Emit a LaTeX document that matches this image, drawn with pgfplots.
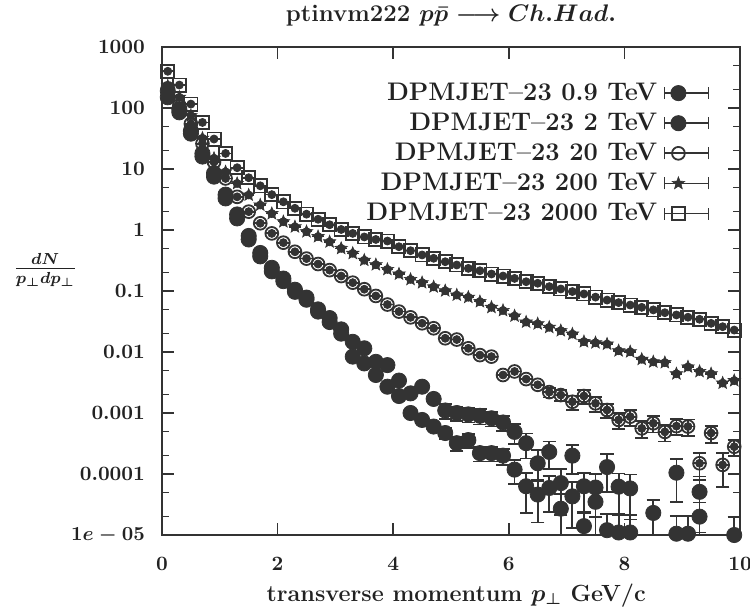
\documentclass[border=0pt]{standalone}
\usepackage{pgfplots}
\pgfplotsset{compat=1.18}
\usepackage{pgfplotstable}
\definecolor{ink}{HTML}{333333}
\definecolor{txt}{HTML}{222222}

\pgfdeclareplotmark{fstar}{%
  \pgfpathmoveto{\pgfpointpolar{90}{\pgfplotmarksize}}%
  \pgfpathlineto{\pgfpointpolar{126}{0.42\pgfplotmarksize}}%
  \pgfpathlineto{\pgfpointpolar{162}{\pgfplotmarksize}}%
  \pgfpathlineto{\pgfpointpolar{198}{0.42\pgfplotmarksize}}%
  \pgfpathlineto{\pgfpointpolar{234}{\pgfplotmarksize}}%
  \pgfpathlineto{\pgfpointpolar{270}{0.42\pgfplotmarksize}}%
  \pgfpathlineto{\pgfpointpolar{306}{\pgfplotmarksize}}%
  \pgfpathlineto{\pgfpointpolar{342}{0.42\pgfplotmarksize}}%
  \pgfpathlineto{\pgfpointpolar{18}{\pgfplotmarksize}}%
  \pgfpathlineto{\pgfpointpolar{54}{0.42\pgfplotmarksize}}%
  \pgfpathclose
  \pgfusepathqfillstroke
}

% 0.9 TeV (filled circles, lower branch)
\pgfplotstableread{
x y ep em
0.1 150 0 0
0.3 85 0 0
0.5 38 0 0
0.7 16 0 0
0.9 7.5 0 0
1.1 3.3 0 0
1.3 1.55 0 0
1.5 0.7 0 0
1.7 0.37 0 0
1.9 0.21 0 0
2.1 0.145 0 0
2.3 0.097 0 0
2.5 0.072 0 0
2.7 0.046 0 0
2.9 0.031 0 0
3.1 0.02 0 0
3.3 0.0084 0 0
3.5 0.0065 0 0
3.7 0.0042 0 0
3.9 0.0027 0 0
4.1 0.0019 0 0
4.3 0.001 0 0
4.5 0.00077 0 0
4.7 0.0006 0 0
4.9 0.00047 0.0001 0.0001
5.1 0.00032 0.00008 0.00008
5.3 0.00036 0.00009 0.00009
5.5 0.00022 0.00006 0.00006
5.7 0.00022 0.00006 0.00006
5.9 0.0002 0.00006 0.00006
6.1 0.000118 0.00005 0.00005
6.3 0.000063 0.00004 0.00004
6.5 0.000046 0.00003 0.00003
6.7 0.000059 0.000035 0.000035
6.9 0.000027 0.00002 0.00002
7.1 0.000043 0.00003 0.00003
7.3 0.000014 0.00001 0.00001
7.5 0.000035 0.000025 0.000025
7.7 0.000012 0.00001 0.00001
7.9 0.000011 0.00001 0.00001
8.1 0.000011 0.00001 0.00001
8.9 0.0000105 0.00001 0.00001
9.1 0.0000105 0.00001 0.00001
9.3 0.00002 0.000014 0.000014
9.9 0.00001 0.00001 0.000009
}\tblA

% 2 TeV (filled circles, upper branch)
\pgfplotstableread{
x y ep em
0.1 190 0 0
0.3 95 0 0
0.5 42 0 0
0.7 18 0 0
0.9 8.5 0 0
1.1 3.8 0 0
1.3 1.8 0 0
1.5 0.8 0 0
1.7 0.42 0 0
1.9 0.24 0 0
2.1 0.16 0 0
2.3 0.105 0 0
2.5 0.078 0 0
2.7 0.05 0 0
2.9 0.036 0 0
3.1 0.0235 0 0
3.3 0.0147 0 0
3.5 0.0115 0 0
3.7 0.0069 0 0
3.9 0.0061 0 0
4.1 0.0034 0 0
4.3 0.0021 0 0
4.5 0.0027 0 0
4.7 0.0017 0 0
4.9 0.0011 0.0003 0.0003
5.1 0.001 0.00025 0.00025
5.3 0.00095 0.00025 0.00025
5.5 0.0009 0.00025 0.00025
5.7 0.00082 0.00022 0.00022
5.9 0.0007 0.0002 0.0002
6.1 0.00049 0.00018 0.00018
6.3 0.00032 0.00014 0.00014
6.5 0.00015 0.0001 0.00007
6.7 0.00023 0.00011 0.00011
6.9 0.000071 0.00005 0.00005
7.1 0.0002 0.0001 0.0001
7.3 0.000063 0.00004 0.00004
7.5 0.00006 0.00004 0.00004
7.7 0.00013 0.00008 0.00008
7.9 0.000062 0.00004 0.00004
8.1 0.000058 0.00004 0.00004
8.5 0.000023 0.000014 0.000014
8.9 0.000105 0.00007 0.00007
9.3 0.000051 0.00004 0.00004
}\tblB

% 20 TeV (open circles)
\pgfplotstableread{
x y e
0.1 210 0
0.3 110 0
0.5 55 0
0.7 26 0
0.9 13 0
1.1 7.0 0
1.3 3.5 0
1.5 2.0 0
1.7 1.29 0
1.9 0.88 0
2.1 0.62 0
2.3 0.44 0
2.5 0.34 0
2.7 0.277 0
2.9 0.22 0
3.1 0.176 0
3.3 0.137 0
3.5 0.107 0
3.7 0.083 0
3.9 0.06 0
4.1 0.046 0
4.3 0.037 0
4.5 0.0296 0
4.7 0.0245 0
4.9 0.0168 0
5.1 0.016 0
5.3 0.0115 0
5.5 0.0089 0
5.7 0.0084 0
5.9 0.0042 0
6.1 0.0048 0
6.3 0.0036 0
6.5 0.0029 0
6.7 0.0022 0.0004
6.9 0.00197 0.0004
7.1 0.00153 0.0004
7.3 0.0019 0.0005
7.5 0.00144 0.0004
7.7 0.00112 0.0003
7.9 0.00077 0.00023
8.1 0.00087 0.00025
8.3 0.00056 0.00017
8.5 0.00068 0.0002
8.7 0.00049 0.00015
8.9 0.00061 0.00018
9.1 0.0006 0.00018
9.3 0.00015 0.00007
9.5 0.00047 0.00015
9.7 0.000141 0.00008
9.9 0.00028 0.00008
}\tblC

% 200 TeV (stars)
\pgfplotstableread{
x y
0.1 230
0.3 150
0.5 75
0.7 32
0.9 15
1.1 9
1.3 5.8
1.5 3.75
1.7 2.57
1.9 1.86
2.1 1.37
2.3 1.13
2.5 0.94
2.7 0.78
2.9 0.64
3.1 0.5
3.3 0.415
3.5 0.32
3.7 0.27
3.9 0.226
4.1 0.19
4.3 0.155
4.5 0.137
4.7 0.117
4.9 0.101
5.1 0.086
5.3 0.079
5.5 0.067
5.7 0.054
5.9 0.048
6.1 0.039
6.3 0.031
6.5 0.029
6.7 0.0254
6.9 0.0224
7.1 0.0197
7.3 0.0148
7.5 0.0142
7.7 0.0135
7.9 0.0105
8.1 0.0101
8.3 0.0076
8.5 0.0069
8.7 0.0067
8.9 0.0044
9.1 0.0057
9.3 0.0048
9.5 0.0044
9.7 0.0031
9.9 0.0034
}\tblD

% 2000 TeV (open squares)
\pgfplotstableread{
x y
0.1 400
0.3 238
0.5 116
0.7 58
0.9 31
1.1 18
1.3 10.5
1.5 7.2
1.7 5.3
1.9 3.8
2.1 2.9
2.3 2.27
2.5 1.82
2.7 1.5
2.9 1.22
3.1 1.02
3.3 0.88
3.5 0.77
3.7 0.7
3.9 0.66
4.1 0.532
4.3 0.458
4.5 0.39
4.7 0.344
4.9 0.302
5.1 0.267
5.3 0.235
5.5 0.215
5.7 0.19
5.9 0.176
6.1 0.161
6.3 0.142
6.5 0.134
6.7 0.118
6.9 0.108
7.1 0.098
7.3 0.0895
7.5 0.0795
7.7 0.071
7.9 0.0646
8.1 0.0589
8.3 0.054
8.5 0.049
8.7 0.0441
8.9 0.0405
9.1 0.0372
9.3 0.0344
9.5 0.0295
9.7 0.026
9.9 0.0229
}\tblE

\begin{document}
\begin{tikzpicture}
\useasboundingbox (-81pt,-38.5pt) rectangle (294pt,267.5pt);
\begin{axis}[
  at={(0pt,0pt)}, anchor=south west,
  width=289pt, height=244pt, scale only axis,
  xmin=0, xmax=10, ymin=1e-5, ymax=1000, ymode=log,
  xtick={0,2,4,6,8,10},
  ytick={1e-5,1e-4,1e-3,1e-2,1e-1,1,10,100,1000},
  yticklabels={$1e-05$,0.0001,0.001,0.01,0.1,1,10,100,1000},
  xticklabels={0,2,4,6,8,10},
  yminorticks=true,
  minor ytick={2e-5,5e-5,2e-4,5e-4,2e-3,5e-3,2e-2,5e-2,0.2,0.5,2,5,20,50,200,500},
  tick align=inside,
  major tick length=6pt, minor tick length=3.5pt,
  axis line style={line width=0.9pt, ink},
  every tick/.style={line width=0.8pt, ink},
  ticklabel style={font=\fontsize{10.2}{12}\selectfont\bfseries\boldmath, text=txt},
  yticklabel style={xshift=-5pt},
  xticklabel style={yshift=-7.5pt},
  clip mode=individual,
  title={ptinvm222 $p\bar{p}\longrightarrow Ch.Had.$},
  every axis title/.style={at={(axis description cs:0.5,1.064)}, anchor=center,
    font=\fontsize{12}{14}\selectfont\bfseries\boldmath, text=txt},
  xlabel={transverse momentum $p_\perp$ GeV/c},
  every axis x label/.style={at={(axis description cs:0.509,-0.124)}, anchor=center,
    font=\fontsize{11.7}{13}\selectfont\bfseries\boldmath, text=txt},
  ylabel={$\frac{dN}{p_\perp dp_\perp}$},
  every axis y label/.style={at={(axis description cs:-0.202,0.543)}, anchor=center,
    font=\fontsize{11.5}{13}\selectfont\bfseries\boldmath, text=txt},
  legend style={draw=none, fill=none, legend plot pos=right,
    at={(axis description cs:0.958,0.942)}, anchor=north east,
    font=\fontsize{12.7}{14}\selectfont\bfseries, text=txt,
    cells={anchor=east}, row sep=1.65pt, column sep=5pt,
    nodes={inner sep=1.2pt, text height=9pt, text depth=2pt}},
  legend image code/.code={
    \draw[ink, line width=0.9pt] (0pt,0pt) -- (22pt,0pt);
    \draw[ink, line width=0.9pt] (0pt,-3pt) -- (0pt,3pt) (22pt,-3pt) -- (22pt,3pt);
    \draw[#1] plot coordinates {(7pt,0pt)};
  },
]
% horizontal bin bars
\addplot[ink, only marks, mark=none, forget plot, error bars/.cd, x dir=both, x fixed=0.1, error mark=none, error bar style={line width=0.8pt, ink}] table[x=x,y=y] {\tblE};
\addplot[ink, only marks, mark=none, forget plot, error bars/.cd, x dir=both, x fixed=0.1, error mark=none, error bar style={line width=0.8pt, ink}] table[x=x,y=y] {\tblD};
\addplot[ink, only marks, mark=none, forget plot, error bars/.cd, x dir=both, x fixed=0.1, error mark=none, error bar style={line width=0.8pt, ink}] table[x=x,y=y] {\tblC};
\addplot[ink, only marks, mark=none, forget plot, error bars/.cd, x dir=both, x fixed=0.1, error mark=none, error bar style={line width=0.8pt, ink}] table[x=x,y=y] {\tblB};
\addplot[ink, only marks, mark=none, forget plot, error bars/.cd, x dir=both, x fixed=0.1, error mark=none, error bar style={line width=0.8pt, ink}] table[x=x,y=y] {\tblA};

\addplot[ink, only marks, mark=*, mark size=3.8pt, mark options={fill=ink, draw=ink},
  error bars/.cd, y dir=both, y explicit, error mark=-,
  error bar style={line width=0.9pt, ink}, error mark options={rotate=90, mark size=3.3pt, line width=0.9pt, ink}]
  table[x=x, y=y, y error plus=ep, y error minus=em] {\tblA};
\addlegendentry{DPMJET--23 0.9 TeV\hspace*{-3pt}}
\addplot[ink, only marks, mark=*, mark size=3.8pt, mark options={fill=ink, draw=ink},
  error bars/.cd, y dir=both, y explicit, error mark=-,
  error bar style={line width=0.9pt, ink}, error mark options={rotate=90, mark size=3.3pt, line width=0.9pt, ink}]
  table[x=x, y=y, y error plus=ep, y error minus=em] {\tblB};
\addlegendentry{DPMJET--23 2 TeV\hspace*{-3pt}}
\addplot[ink, only marks, mark=o, mark size=3.2pt, mark options={line width=0.9pt, draw=ink, fill=none},
  error bars/.cd, y dir=both, y explicit, error mark=-,
  error bar style={line width=0.9pt, ink}, error mark options={rotate=90, mark size=3.3pt, line width=0.9pt, ink}]
  table[x=x, y=y, y error=e] {\tblC};
\addlegendentry{DPMJET--23 20 TeV\hspace*{-3pt}}
\addplot[ink, only marks, mark=fstar, mark size=3.3pt, mark options={fill=ink, draw=ink, line width=0.3pt}]
  table[x=x, y=y] {\tblD};
\addlegendentry{DPMJET--23 200 TeV\hspace*{-3pt}}
\addplot[ink, only marks, mark=square, mark size=3.3pt, mark options={line width=0.9pt, draw=ink, fill=none}]
  table[x=x, y=y] {\tblE};
\addlegendentry{DPMJET--23 2000 TeV\hspace*{-3pt}}
\end{axis}
\end{tikzpicture}
\end{document}
